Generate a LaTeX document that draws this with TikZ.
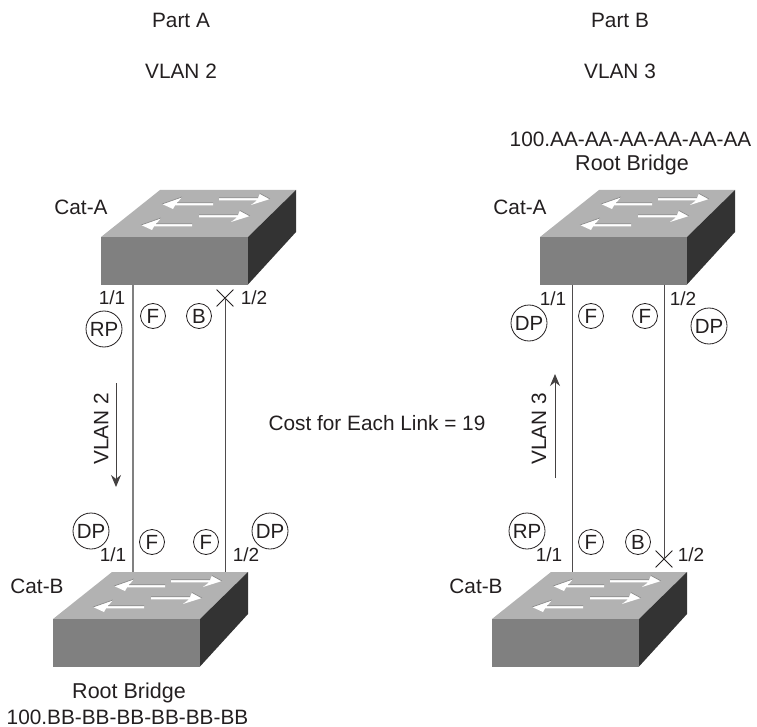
\documentclass[tikz,border=0pt]{standalone}
\usepackage{fontspec}
\setmainfont{Liberation Sans}
\usetikzlibrary{arrows.meta,shapes.misc}
\definecolor{swtop}{HTML}{B2B2B2}
\definecolor{swfront}{HTML}{808080}
\definecolor{swside}{HTML}{333333}
\definecolor{swshade}{HTML}{8A8A8A}
\definecolor{ink}{HTML}{231F20}
\newcommand{\swarrowL}[1]{%
  \fill[white,shift={(#1)}] (0,0) -- (20,-7) -- (15,-1) -- (51,-1) -- (51,1.4) -- (13,1.4) -- (11,5) -- cycle;
  \draw[swshade,line width=.7pt,shift={(#1)}] (0,0) -- (20,-7) (15,-1.3) -- (51,-1.3);}
\newcommand{\swarrowR}[1]{%
  \fill[white,shift={(#1)}] (0,0) -- (-10,-5.5) -- (-12,-1) -- (-51,-1) -- (-51,1.4) -- (-13,1.4) -- (-19,6) -- cycle;
  \draw[swshade,line width=.7pt,shift={(#1)}] (0,0) -- (-10,-5.5) (-12,-1.3) -- (-51,-1.3);}
\tikzset{
  x=1pt,y=-1pt,
  lbl/.style={font=\fontsize{20.8}{22}\selectfont,text=ink,inner sep=0pt},
  rootlbl/.style={lbl,font=\fontsize{21.5}{23}\selectfont},
  portlbl/.style={lbl,font=\fontsize{19}{21}\selectfont},
  portstate/.style={circle,draw=ink,line width=.8pt,minimum size=25pt,inner sep=0pt,font=\fontsize{20.5}{22}\selectfont,text=ink},
  portrole/.style={portstate,minimum size=36pt},
  linkline/.style={draw=ink!80,line width=.9pt},
  linkgray/.style={draw=black!50,line width=1.1pt},
  blocked/.style={cross out,draw=ink,line width=.8pt,minimum size=16pt,inner sep=0pt},
  flow/.style={draw=ink!85,line width=1pt,-{Stealth[length=12pt,width=10pt]}},
  pics/netswitch/.style={code={
    \fill[swtop] (0,0) -- (59,-47) -- (195,-47) -- (147,0) -- cycle;
    \fill[swfront] (0,0) rectangle (147,47.5);
    \fill[swside] (147,0) -- (195,-47) -- (195,-5) -- (147,47.5) -- cycle;
    \swarrowL{61,-33}
    \swarrowR{169,-38}
    \swarrowL{40,-12}
    \swarrowR{149,-21}
    \coordinate (-dn1) at (32,47.5);
    \coordinate (-dn2) at (124,47.5);
    \coordinate (-up1) at (80,-47);
    \coordinate (-up2) at (172,-47);
  }}
}
\begin{document}
\begin{tikzpicture}
\useasboundingbox (0,0) rectangle (757,727);
% headers
\node[lbl] (pa) at (181,20) {Part A};
\node[lbl] (va) at (181,71) {VLAN 2};
\node[lbl] (pb) at (620,20) {Part B};
\node[lbl] (vb) at (620,71) {VLAN 3};
\node[lbl] (ra) at (630.5,139) {100.AA-AA-AA-AA-AA-AA};
\node[rootlbl] (rb) at (632,165) {Root Bridge};
\node[rootlbl] (rc) at (129,693) {Root Bridge};
\node[lbl] (rd) at (127.5,717) {100.BB-BB-BB-BB-BB-BB};
\node[lbl] (cost) at (377,423) {Cost for Each Link = 19};
\node[lbl] (c1) at (81,207) {Cat-A};
\node[lbl] (c2) at (520,207) {Cat-A};
\node[lbl] (c3) at (37,586) {Cat-B};
\node[lbl] (c4) at (476,586) {Cat-B};
% switches
\pic (s1) at (101,237) {netswitch};
\pic (s2) at (53,619) {netswitch};
\pic (s3) at (540,237) {netswitch};
\pic (s4) at (492,619) {netswitch};
% blocked ports
\node[blocked] (x1) at (225,298) {};
\node[blocked] (x2) at (664,559) {};
% links
\draw[linkgray] (s1-dn1) -- (s2-up1);
\draw[linkline] (x1.center) -- (s2-up2);
\draw[linkline] (s3-dn1) -- (s4-up1);
\draw[linkline] (s3-dn2) -- (x2.center);
% VLAN flows
\coordinate (f1a) at (116,383);
\coordinate (f1b) at (116,487);
\coordinate (f2a) at (555,478);
\coordinate (f2b) at (555,374);
\draw[flow] (f1a) -- (f1b);
\draw[flow] (f2a) -- (f2b);
\node[lbl,rotate=90] (v2) at (101,429) {VLAN 2};
\node[lbl,rotate=90] (v3) at (539,429) {VLAN 3};
% port numbers
\node[portlbl] (n1) at (112,298) {1/1};
\node[portlbl] (n2) at (254,298) {1/2};
\node[portlbl] (n3) at (113,555) {1/1};
\node[portlbl] (n4) at (246,555) {1/2};
\node[portlbl] (n5) at (553,299) {1/1};
\node[portlbl] (n6) at (683,299) {1/2};
\node[portlbl] (n7) at (549,555) {1/1};
\node[portlbl] (n8) at (691,555) {1/2};
% roles
\node[portrole] (r1) at (104,329) {RP};
\node[portrole] (r2) at (91,531) {DP};
\node[portrole] (r3) at (270,531) {DP};
\node[portrole] (r4) at (529,323) {DP};
\node[portrole] (r5) at (709,326) {DP};
\node[portrole] (r6) at (527,531) {RP};
% states
\node[portstate] (t1) at (153,316) {F};
\node[portstate] (t2) at (199,316) {B};
\node[portstate] (t3) at (152,542) {F};
\node[portstate] (t4) at (206,542) {F};
\node[portstate] (t5) at (591,316) {F};
\node[portstate] (t6) at (645,316) {F};
\node[portstate] (t7) at (591,542) {F};
\node[portstate] (t8) at (638,542) {B};
\end{tikzpicture}
\end{document}
